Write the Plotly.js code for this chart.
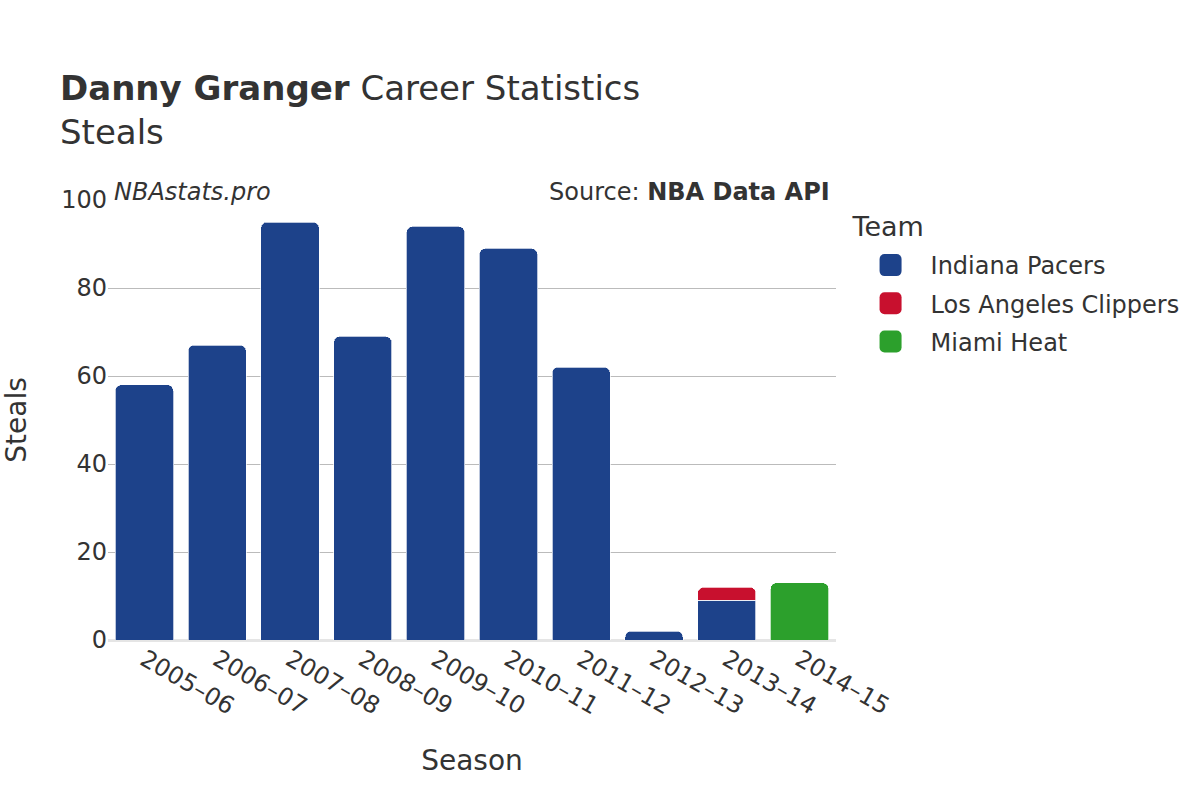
<!DOCTYPE html>
<html>
<head>
<meta charset="utf-8">
<script src="https://cdn.plot.ly/plotly-3.0.1.min.js"></script>
<style>body{margin:0;}#chart{width:1200px;height:800px;}</style>
</head>
<body>
<div id="chart"></div>
<script>
const seasons = ["2005–06","2006–07","2007–08","2008–09","2009–10","2010–11","2011–12","2012–13","2013–14","2014–15"];
const pacersSeasons = ["2005–06","2006–07","2007–08","2008–09","2009–10","2010–11","2011–12","2012–13","2013–14"];
const pacersSteals = [58, 67, 95, 69, 94, 89, 62, 2, 9];
const clippersSeasons = ["2013–14"];
const clippersSteals = [3];
const heatSeasons = ["2014–15"];
const heatSteals = [13];

const font = "DejaVu Sans, sans-serif";
const traces = [
  {type:"bar", name:"Indiana Pacers", legendgroup:"a", x:pacersSeasons, y:pacersSteals, marker:{color:"#1d428a", line:{color:"rgba(255,255,255,0.7)", width:1}}},
  {type:"bar", name:"Los Angeles Clippers", legendgroup:"b", x:clippersSeasons, y:clippersSteals, marker:{color:"#c8102e", line:{color:"rgba(255,255,255,0.7)", width:1}}},
  {type:"bar", name:"Miami Heat", legendgroup:"c", x:heatSeasons, y:heatSteals, marker:{color:"#2ca02c", line:{color:"rgba(255,255,255,0.7)", width:1}}}
];
const layout = {
  width:1200, height:800,
  barmode:"stack", bargap:0.2, barcornerradius:6,
  paper_bgcolor:"#ffffff", plot_bgcolor:"#ffffff",
  font:{family:font, color:"#333333", size:24},
  margin:{l:108, r:364, t:200, b:160},
  title:{text:"<b>Danny Granger</b> Career Statistics<br>Steals", x:0.05, xanchor:"left", y:0.875, yanchor:"top", font:{size:34, family:font, color:"#333333"}},
  xaxis:{title:{text:"Season", font:{size:28}, standoff:30}, categoryorder:"array", categoryarray:seasons, tickangle:30, tickfont:{size:24}, showgrid:false, showline:false},
  yaxis:{title:{text:"Steals", font:{size:28}, standoff:30}, range:[0,100], dtick:20, tickfont:{size:24}, gridcolor:"#bbbbbb", gridwidth:1, zeroline:true, zerolinecolor:"#e5e5e5", zerolinewidth:3, ticks:"", ticklen:0},
  legend:{title:{text:"Team", font:{size:27}}, traceorder:"grouped", tracegroupgap:4, itemwidth:70, x:1.02, y:0.982, yanchor:"top", font:{size:24}},
  annotations:[
    {text:"<i>NBAstats.pro</i>", xref:"paper", yref:"paper", x:0.005, y:1.018, xanchor:"left", yanchor:"middle", showarrow:false, font:{size:24, color:"#333333"}},
    {text:"Source: <b>NBA Data API</b>", xref:"paper", yref:"paper", x:0.995, y:1.018, xanchor:"right", yanchor:"middle", showarrow:false, font:{size:24, color:"#333333"}}
  ]
};
Plotly.newPlot("chart", traces, layout, {displayModeBar:false}).then(function(gd){
  gd.querySelectorAll(".legend .legendpoints path").forEach(function(p){
    p.setAttribute("d", "M-6,-11H6A5,5 0 0 1 11,-6V6A5,5 0 0 1 6,11H-6A5,5 0 0 1 -11,6V-6A5,5 0 0 1 -6,-11Z");
    p.style.strokeWidth = "0px";
  });
  var t = gd.querySelector(".legend .legendtitletext");
  if (t) { t.setAttribute("transform", "translate(0,-7)"); }
});
</script>
</body>
</html>
